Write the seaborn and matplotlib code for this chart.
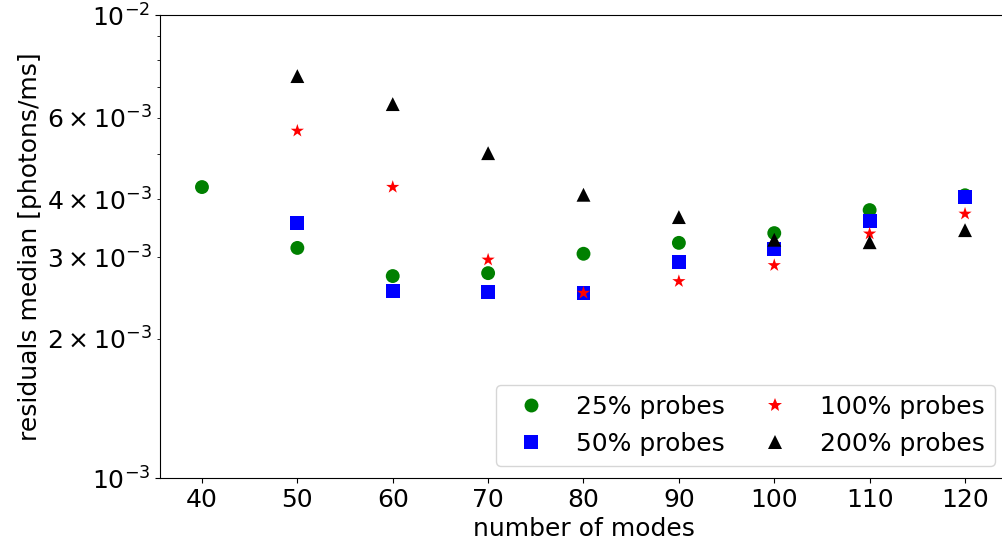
import matplotlib
matplotlib.use("Agg")
import matplotlib.pyplot as plt
import seaborn as sns
import pandas as pd
import numpy as np

modes = [40, 50, 60, 70, 80, 90, 100, 110, 120]
modes_rest = [50, 60, 70, 80, 90, 100, 110, 120]
p25 = [4.25e-3, 3.14e-3, 2.73e-3, 2.77e-3, 3.05e-3, 3.22e-3, 3.38e-3, 3.79e-3, 4.08e-3]
p50 = [3.55e-3, 2.53e-3, 2.52e-3, 2.51e-3, 2.93e-3, 3.12e-3, 3.59e-3, 4.05e-3]
p100 = [5.62e-3, 4.25e-3, 2.96e-3, 2.51e-3, 2.66e-3, 2.88e-3, 3.37e-3, 3.72e-3]
p200 = [7.38e-3, 6.42e-3, 5.03e-3, 4.09e-3, 3.66e-3, 3.27e-3, 3.23e-3, 3.43e-3]
labels = ["25% probes", "50% probes", "100% probes", "200% probes"]

sns.set_style("ticks")
fs = 18
plt.rcParams.update({
    'font.family': ['DejaVu Sans'],
    'font.size': fs,
    'xtick.labelsize': fs,
    'ytick.labelsize': fs,
    'axes.labelsize': fs,
    'legend.fontsize': fs,
    'text.color': 'black',
    'axes.labelcolor': 'black',
    'xtick.color': 'black',
    'ytick.color': 'black',
    'axes.edgecolor': 'black',
})

df = pd.concat([
    pd.DataFrame({"modes": modes, "val": p25, "series": labels[0]}),
    pd.DataFrame({"modes": modes_rest, "val": p50, "series": labels[1]}),
    pd.DataFrame({"modes": modes_rest, "val": p100, "series": labels[2]}),
    pd.DataFrame({"modes": modes_rest, "val": p200, "series": labels[3]}),
], ignore_index=True)

palette = {labels[0]: "green", labels[1]: "blue", labels[2]: "red", labels[3]: "black"}
markers = {labels[0]: "o", labels[1]: "s", labels[2]: "*", labels[3]: "^"}

fig = plt.figure(figsize=(10.02, 5.52), dpi=100)
# axes extends slightly past the right edge of the image, as in the reference
ax = fig.add_axes([160 / 1002, 74 / 552, 847 / 1002, 463 / 552])
sns.scatterplot(data=df, x="modes", y="val", hue="series", style="series",
                palette=palette, markers=markers, s=100, linewidth=0, ax=ax,
                legend=True)
ax.set_yscale("log")
ax.set_ylim(1e-3, 1e-2)
ax.set_xlim(35.6, 124.4)
ax.set_xticks([40, 50, 60, 70, 80, 90, 100, 110, 120])
ax.set_xlabel("number of modes")
ax.set_ylabel("residuals median [photons/ms]")
ax.tick_params(which="both", direction="out")

handles, labs = ax.get_legend_handles_labels()
ax.legend(handles, labs, ncol=2, loc="lower right", frameon=True,
          markerscale=1.0, columnspacing=1.0, handletextpad=0.8)

fig.savefig("out.png", dpi=100)
